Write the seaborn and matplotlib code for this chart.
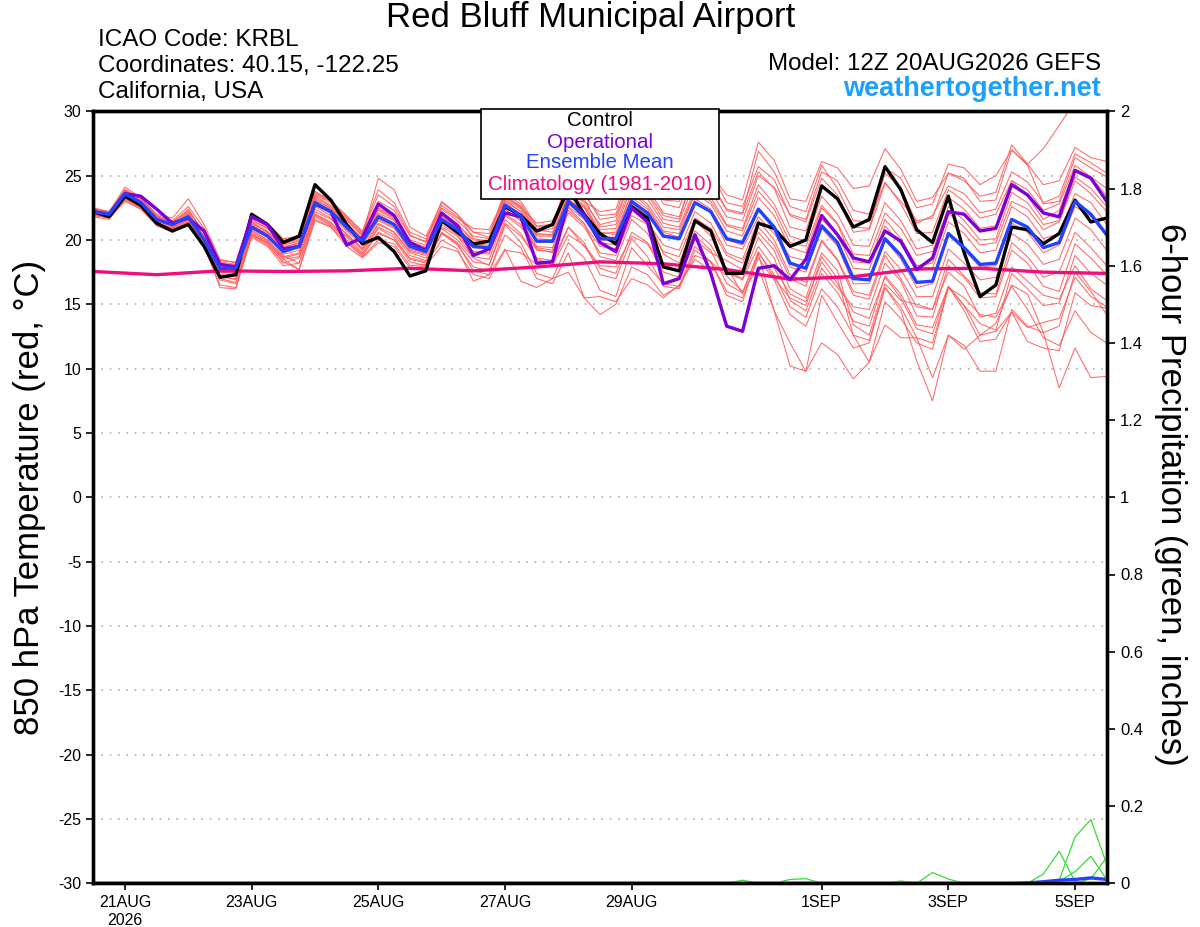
import pandas as pd
import matplotlib.pyplot as plt
from matplotlib.patches import Rectangle
import seaborn as sns


times = pd.date_range('2026-08-20 12:00', periods=65, freq='6h')

control = [22.2, 21.8, 23.4, 22.7, 21.3, 20.7, 21.2, 19.5, 17.1, 17.3, 22.0, 21.2, 19.8, 20.3, 24.3, 23.1,
           21.2, 19.7, 20.2, 19.1, 17.2, 17.6, 21.5, 20.6, 19.7, 19.9, 22.6, 21.9, 20.7, 21.2, 24.0, 22.0,
           20.5, 19.7, 22.6, 21.7, 17.9, 17.6, 21.5, 20.7, 17.4, 17.4, 21.3, 20.9, 19.5, 20.0, 24.2, 23.2,
           21.0, 21.6, 25.7, 23.9, 20.8, 19.8, 23.4, 19.0, 15.6, 16.5, 21.0, 20.8, 19.7, 20.5, 23.1, 21.4, 21.7]

operational = [22.2, 22.0, 23.6, 23.4, 22.4, 21.3, 21.7, 20.7, 18.1, 17.9, 21.8, 21.2, 19.3, 19.5, 22.8, 22.2,
               19.6, 20.2, 22.8, 21.9, 19.8, 19.2, 22.1, 21.1, 18.8, 19.3, 22.1, 21.8, 18.2, 18.3, 23.0, 22.0,
               19.8, 19.1, 22.5, 21.4, 16.6, 17.0, 20.4, 17.4, 13.3, 12.9, 17.8, 18.0, 16.9, 18.5, 21.9, 20.4,
               18.6, 18.3, 20.7, 19.9, 17.7, 18.6, 22.2, 22.0, 20.7, 20.9, 24.3, 23.5, 22.1, 21.8, 25.4, 24.8, 23.0]

ens_mean = [22.2, 22.0, 23.6, 22.9, 21.6, 21.2, 21.8, 20.0, 17.8, 17.8, 21.0, 20.3, 19.1, 19.5, 22.9, 22.2,
            21.0, 19.9, 21.8, 21.2, 19.5, 19.1, 21.6, 20.8, 19.5, 19.4, 22.7, 21.9, 19.9, 19.9, 23.0, 21.8,
            20.1, 20.1, 23.0, 22.1, 20.3, 20.1, 22.9, 22.2, 20.1, 19.8, 22.4, 21.0, 18.2, 17.8, 21.1, 19.8,
            17.0, 16.9, 20.1, 18.8, 16.7, 16.8, 20.5, 19.4, 18.1, 18.2, 21.6, 21.0, 19.4, 19.8, 23.0, 22.0, 20.4]

# daily climatology, one value per 12Z
climatology = [17.55, 17.3, 17.6, 17.55, 17.6, 17.8, 17.6, 17.9, 18.3, 18.15, 17.7, 16.95, 17.15, 17.75,
               17.8, 17.5, 17.4]

members = [
    [22.4, 22.1, 23.9, 23.1, 21.8, 21.4, 22.3, 20.6, 18.2, 18.0, 21.4, 20.7, 19.6, 19.9, 23.4, 22.7,
     21.5, 20.3, 22.5, 21.8, 20.0, 19.6, 22.4, 21.5, 20.3, 20.1, 23.5, 22.6, 20.8, 20.6, 24.1, 23.2,
     21.0, 21.2, 24.4, 23.5, 21.6, 21.4, 24.6, 23.8, 21.8, 21.5, 25.0, 24.1, 22.0, 21.6, 25.3, 24.6,
     22.3, 22.0, 25.6, 24.8, 22.5, 22.8, 25.9, 25.6, 24.3, 25.0, 27.0, 25.9, 27.1, 28.9, 30.8, 31.5, 32.0],
    [22.0, 21.9, 23.4, 22.8, 21.5, 21.0, 21.9, 20.3, 18.1, 17.9, 21.6, 20.9, 19.8, 20.1, 23.8, 23.0,
     21.6, 20.4, 24.8, 23.9, 21.0, 20.3, 22.9, 22.0, 20.6, 20.5, 23.6, 22.8, 21.0, 21.2, 24.2, 23.5,
     21.9, 22.0, 25.7, 25.0, 22.8, 22.5, 25.8, 25.1, 23.5, 23.1, 27.6, 26.2, 23.2, 23.0, 26.1, 25.6,
     24.0, 24.2, 27.1, 25.5, 23.0, 23.3, 25.2, 24.6, 23.4, 23.7, 27.4, 25.9, 24.3, 24.6, 27.2, 26.4, 26.1],
    [22.3, 21.8, 23.5, 22.6, 21.2, 20.8, 21.5, 19.8, 17.5, 17.4, 20.8, 20.0, 18.6, 18.9, 22.2, 21.6,
     20.5, 19.2, 21.0, 20.4, 18.8, 18.4, 20.9, 20.0, 18.6, 18.0, 21.6, 20.5, 18.5, 18.1, 21.0, 19.8,
     17.3, 17.0, 20.1, 18.7, 16.4, 16.2, 19.2, 18.3, 16.0, 15.5, 18.6, 16.9, 14.2, 13.3, 16.2, 14.8,
     12.6, 12.2, 16.3, 14.5, 10.6, 7.5, 12.6, 11.8, 9.8, 9.8, 14.6, 13.3, 12.8, 8.5, 11.6, 9.3, 9.4],
    [22.1, 21.9, 23.3, 22.7, 21.4, 20.9, 21.6, 19.9, 17.2, 16.9, 20.6, 19.9, 18.8, 18.2, 22.0, 21.3,
     20.2, 19.0, 20.9, 20.2, 18.5, 18.2, 20.5, 19.7, 17.6, 17.3, 21.2, 19.8, 17.4, 17.0, 19.8, 18.6,
     16.1, 15.6, 19.4, 18.0, 16.6, 16.4, 18.8, 18.3, 15.7, 15.2, 18.9, 14.5, 12.0, 9.8, 12.0, 11.1,
     9.2, 10.5, 13.4, 12.4, 12.4, 9.3, 12.6, 11.5, 12.6, 12.9, 14.4, 12.1, 11.6, 11.4, 15.9, 14.9, 14.7],
    [22.0, 21.7, 23.2, 22.5, 21.3, 20.7, 21.3, 19.6, 17.0, 16.7, 20.3, 19.6, 18.3, 17.7, 21.5, 21.0,
     19.8, 18.7, 20.0, 19.7, 18.0, 18.1, 20.0, 19.3, 16.8, 17.3, 19.3, 16.8, 16.3, 17.0, 17.5, 15.5,
     14.2, 15.0, 17.9, 17.3, 15.7, 16.4, 19.5, 18.3, 17.2, 16.0, 17.8, 14.5, 10.2, 9.8, 15.7, 13.6,
     11.6, 12.0, 16.3, 14.8, 12.4, 12.0, 16.3, 14.9, 12.6, 13.5, 16.5, 15.8, 12.8, 13.3, 17.5, 16.0, 14.2],
    [22.1, 21.9, 23.5, 22.8, 21.5, 21.0, 21.7, 19.9, 17.6, 17.5, 20.9, 20.2, 18.9, 19.2, 22.6, 21.9,
     20.7, 19.6, 21.5, 20.9, 19.2, 18.9, 21.2, 20.4, 19.0, 18.9, 22.0, 21.2, 19.2, 19.1, 22.1, 21.0,
     19.0, 18.8, 21.9, 21.2, 19.1, 18.7, 21.7, 20.9, 18.8, 18.2, 21.0, 19.6, 17.0, 16.4, 19.9, 18.4,
     15.7, 15.4, 18.8, 17.0, 14.8, 14.6, 18.5, 17.2, 15.9, 15.8, 19.8, 18.7, 17.1, 17.5, 20.6, 19.4, 18.0],
    [22.5, 22.2, 24.1, 23.3, 21.9, 21.5, 22.6, 20.9, 18.4, 18.3, 22.0, 21.3, 20.1, 20.3, 23.6, 23.0,
     21.9, 20.6, 23.5, 22.6, 20.4, 19.8, 22.7, 21.8, 20.6, 20.2, 23.9, 23.0, 21.1, 21.2, 24.8, 23.7,
     21.6, 21.8, 24.9, 24.0, 22.1, 21.8, 25.3, 24.4, 22.3, 22.0, 25.3, 24.0, 21.0, 20.7, 24.3, 23.2,
     20.6, 20.8, 24.4, 23.0, 21.5, 21.7, 25.2, 24.8, 23.0, 23.1, 27.0, 25.8, 22.8, 23.0, 26.4, 25.6, 24.9],
    [22.3, 22.1, 23.7, 23.0, 21.7, 21.2, 21.8, 20.1, 17.9, 17.7, 21.2, 20.4, 19.3, 19.6, 23.0, 22.3,
     21.0, 19.8, 22.0, 21.3, 19.6, 19.0, 21.8, 20.9, 19.4, 19.3, 22.4, 21.5, 19.3, 19.0, 22.5, 21.3,
     18.7, 18.4, 21.6, 20.5, 18.2, 17.5, 20.7, 19.6, 17.5, 16.9, 19.5, 17.8, 15.8, 15.2, 18.3, 16.6,
     14.4, 13.9, 17.1, 15.5, 13.1, 12.7, 16.4, 14.9, 13.5, 13.0, 17.4, 16.2, 14.9, 15.1, 18.8, 17.4, 16.5],
    [22.3, 22.2, 23.9, 23.3, 22.0, 21.7, 23.2, 21.2, 18.5, 18.2, 21.8, 21.0, 19.7, 20.0, 23.3, 22.6,
     21.3, 20.1, 22.4, 21.7, 19.9, 19.4, 22.1, 21.3, 19.8, 19.8, 23.0, 22.2, 20.3, 20.3, 23.4, 22.5,
     20.5, 20.6, 23.6, 22.6, 20.7, 20.5, 23.6, 22.8, 20.7, 20.3, 23.3, 21.9, 19.4, 19.0, 22.5, 21.2,
     18.3, 18.2, 21.6, 20.1, 18.0, 18.2, 22.1, 21.0, 19.6, 19.8, 23.0, 22.4, 20.8, 21.4, 24.6, 23.6, 22.2],
    [21.9, 21.8, 23.2, 22.6, 21.3, 20.8, 21.4, 19.7, 17.3, 17.2, 20.5, 19.8, 18.5, 18.7, 22.0, 21.4,
     20.0, 18.9, 20.6, 20.0, 18.6, 18.3, 20.5, 19.6, 17.9, 17.6, 20.4, 19.4, 17.0, 16.6, 19.0, 15.5,
     15.6, 15.2, 17.0, 16.5, 15.5, 16.5, 18.5, 17.6, 17.9, 15.8, 19.1, 17.0, 15.5, 14.9, 18.7, 17.0,
     12.6, 10.5, 15.2, 13.9, 12.0, 11.5, 16.3, 15.5, 14.2, 14.0, 16.4, 14.6, 12.4, 11.8, 14.5, 12.8, 12.0],
    [22.2, 22.0, 23.8, 23.2, 21.9, 21.3, 22.4, 20.5, 18.0, 18.1, 21.5, 20.9, 19.9, 20.4, 23.5, 22.9,
     21.7, 20.5, 23.0, 22.3, 20.3, 19.9, 23.0, 22.0, 20.1, 19.9, 23.3, 22.6, 20.6, 20.9, 23.8, 22.9,
     21.2, 21.5, 24.9, 23.7, 21.9, 21.6, 25.5, 24.5, 22.4, 22.1, 26.9, 25.3, 22.6, 22.2, 25.8, 24.0,
     21.5, 21.4, 24.5, 22.8, 20.5, 20.6, 23.9, 23.0, 21.7, 22.0, 24.6, 23.4, 21.6, 22.3, 25.5, 24.9, 24.0],
    [22.2, 22.0, 23.6, 22.8, 21.5, 21.1, 21.9, 20.0, 17.7, 17.6, 21.1, 20.5, 19.2, 19.4, 22.8, 22.1,
     20.9, 19.9, 21.6, 21.0, 19.3, 19.0, 21.5, 20.7, 19.4, 19.4, 22.9, 22.0, 20.1, 20.0, 23.2, 22.2,
     20.3, 20.2, 23.3, 22.4, 20.6, 20.2, 23.2, 22.4, 20.0, 19.6, 22.3, 20.8, 17.9, 17.5, 20.9, 19.5,
     16.6, 16.6, 20.0, 18.5, 16.3, 16.6, 20.4, 19.2, 17.9, 18.0, 21.3, 20.6, 19.0, 19.6, 22.6, 21.8, 20.3],
    [21.9, 21.7, 23.0, 22.4, 21.1, 20.6, 21.2, 19.5, 16.5, 16.3, 20.2, 19.5, 18.0, 18.2, 21.6, 21.0,
     19.5, 18.6, 19.8, 19.5, 17.8, 18.0, 19.5, 19.1, 17.3, 17.0, 19.2, 19.0, 18.1, 18.0, 20.4, 19.6,
     18.0, 17.9, 20.3, 19.7, 17.5, 17.1, 20.0, 19.0, 18.4, 17.7, 20.6, 19.2, 16.2, 15.5, 19.0, 17.6,
     13.4, 12.6, 16.6, 15.3, 15.0, 14.6, 17.5, 16.4, 14.0, 14.3, 17.9, 16.8, 15.7, 15.4, 18.0, 16.2, 15.3],
    [22.3, 22.0, 23.6, 23.0, 21.6, 21.2, 22.0, 20.3, 18.0, 17.9, 21.3, 20.6, 19.4, 19.8, 23.2, 22.4,
     21.2, 20.1, 22.1, 21.5, 19.7, 19.3, 21.9, 21.0, 19.7, 19.6, 23.1, 22.2, 20.4, 20.4, 23.6, 22.7,
     20.8, 20.9, 24.1, 23.2, 21.3, 21.0, 24.0, 23.3, 21.2, 20.9, 24.3, 22.8, 20.3, 19.9, 23.4, 22.0,
     19.6, 19.5, 22.9, 21.5, 19.3, 19.6, 23.3, 22.4, 20.9, 21.1, 24.6, 23.9, 22.3, 22.8, 25.8, 24.9, 23.4],
    [22.0, 21.8, 23.3, 22.5, 21.2, 20.7, 21.4, 19.6, 16.3, 16.2, 20.4, 19.8, 18.5, 17.7, 21.8, 21.1,
     20.3, 19.3, 21.3, 20.6, 19.0, 18.6, 21.0, 20.3, 18.7, 18.5, 21.9, 21.0, 19.4, 19.2, 22.3, 21.2,
     19.5, 19.3, 22.3, 21.4, 19.6, 19.2, 22.2, 21.3, 19.0, 18.5, 21.5, 20.0, 17.3, 16.7, 20.0, 18.5,
     16.0, 15.7, 19.1, 17.7, 15.6, 15.6, 19.3, 18.2, 16.9, 17.1, 20.5, 19.7, 18.1, 18.5, 21.7, 20.8, 19.2],
    [22.4, 22.2, 23.8, 23.1, 21.8, 21.4, 22.2, 20.6, 18.3, 18.1, 21.7, 21.1, 20.0, 20.2, 23.7, 23.1,
     21.8, 20.7, 23.9, 22.9, 20.6, 20.1, 22.5, 21.7, 20.9, 20.8, 23.4, 22.5, 21.3, 21.5, 23.9, 23.0,
     22.2, 22.4, 25.7, 25.2, 23.1, 23.0, 25.8, 25.3, 22.9, 22.6, 25.7, 24.7, 21.9, 21.4, 24.8, 23.5,
     21.0, 20.9, 25.2, 24.1, 21.3, 21.9, 24.2, 23.6, 22.1, 22.4, 25.3, 24.5, 22.9, 23.4, 26.7, 26.0, 25.2],
    [22.1, 21.8, 23.4, 22.7, 21.3, 20.9, 21.6, 19.8, 17.1, 17.0, 20.7, 20.0, 18.7, 19.0, 22.4, 21.7,
     20.4, 19.4, 21.2, 20.6, 19.1, 18.8, 21.4, 20.6, 19.1, 19.0, 22.4, 21.5, 19.5, 19.4, 22.6, 21.6,
     19.8, 19.6, 22.6, 21.7, 18.9, 18.2, 21.5, 20.3, 17.6, 17.0, 20.2, 18.6, 15.3, 14.5, 17.8, 16.3,
     14.8, 14.6, 18.2, 16.8, 14.1, 14.0, 18.0, 17.1, 15.5, 15.6, 19.2, 18.2, 16.4, 16.0, 19.7, 18.6, 17.3],
    [22.2, 22.1, 23.7, 23.0, 21.7, 21.3, 22.1, 20.2, 17.9, 17.9, 21.3, 20.6, 19.5, 19.7, 23.1, 22.5,
     21.2, 20.0, 22.3, 21.6, 19.8, 19.4, 22.0, 21.2, 20.0, 19.9, 23.2, 22.4, 20.5, 20.4, 23.5, 22.6,
     20.6, 20.4, 23.7, 22.8, 21.0, 20.8, 23.7, 23.0, 21.1, 20.7, 23.8, 22.4, 19.8, 19.5, 22.7, 21.3,
     18.9, 18.8, 22.1, 20.9, 18.8, 19.1, 22.6, 21.5, 20.0, 20.1, 23.7, 22.9, 21.2, 21.5, 24.9, 24.0, 22.6],
    [21.8, 21.6, 23.1, 22.4, 21.2, 20.6, 21.3, 19.6, 16.9, 16.6, 20.4, 19.7, 18.2, 18.6, 21.9, 21.2,
     19.9, 18.8, 20.5, 20.0, 18.3, 18.0, 20.6, 19.8, 18.3, 18.1, 21.3, 20.3, 18.6, 18.4, 21.0, 19.5,
     17.8, 17.4, 20.6, 19.8, 17.9, 17.6, 20.3, 19.2, 16.6, 15.9, 19.0, 17.3, 14.8, 14.0, 17.4, 15.9,
     13.7, 13.3, 17.2, 15.8, 13.4, 13.2, 16.4, 14.5, 12.1, 12.3, 14.4, 13.2, 13.6, 13.9, 17.1, 15.6, 14.8],
    [22.4, 22.1, 23.6, 22.9, 21.6, 21.2, 22.0, 20.2, 17.8, 17.8, 21.1, 20.4, 19.3, 19.6, 22.9, 22.2,
     20.8, 19.8, 21.9, 21.1, 19.5, 19.2, 21.7, 20.8, 19.5, 19.3, 22.6, 21.7, 19.9, 19.8, 22.8, 21.8,
     20.0, 19.9, 22.8, 21.9, 20.4, 20.2, 22.9, 22.1, 19.6, 19.3, 21.8, 20.5, 18.7, 18.4, 21.6, 20.4,
     17.8, 17.7, 21.1, 19.7, 17.6, 17.8, 21.4, 20.5, 19.0, 19.2, 22.6, 21.8, 20.1, 20.5, 23.6, 22.9, 21.2],
]

# 6-hour precipitation (inches), only members with rain
precip_members = [
    [0.0] * 59 + [0.0, 0.024, 0.083, 0.005, 0.0, 0.0],
    [0.0] * 60 + [0.0, 0.008, 0.12, 0.165, 0.05],
    [0.0] * 61 + [0.005, 0.03, 0.07, 0.01],
    [0.0] * 62 + [0.0, 0.012, 0.067],
    [0.0] * 41 + [0.008, 0.0, 0.0, 0.01, 0.012] + [0.0] * 19,
    [0.0] * 51 + [0.006, 0.0, 0.028, 0.011] + [0.0] * 10,
]
precip_mean = [0.0] * 59 + [0.001, 0.004, 0.008, 0.01, 0.014, 0.01]

tick_dates = ['2026-08-21', '2026-08-23', '2026-08-25', '2026-08-27', '2026-08-29',
              '2026-09-01', '2026-09-03', '2026-09-05']
tick_labels = ['21AUG\n2026', '23AUG', '25AUG', '27AUG', '29AUG', '1SEP', '3SEP', '5SEP']
temp_ticks = list(range(-30, 31, 5))
precip_ticks = [0, 0.2, 0.4, 0.6, 0.8, 1, 1.2, 1.4, 1.6, 1.8, 2]
precip_labels = ['0', '0.2', '0.4', '0.6', '0.8', '1', '1.2', '1.4', '1.6', '1.8', '2']

RED = '#ff5a5a'
PURPLE = '#7d00d8'
BLUE = '#2342ff'
PINK = '#ee0f7e'
GREEN = '#33dd33'

sns.set_style('white')
plt.rcParams['font.family'] = ['Liberation Sans', 'DejaVu Sans']
plt.rcParams['axes.unicode_minus'] = False
plt.rcParams['text.color'] = 'black'
plt.rcParams['xtick.color'] = 'black'
plt.rcParams['ytick.color'] = 'black'

member_df = pd.concat([pd.DataFrame({'time': times, 'temp': v, 'member': k})
                       for k, v in enumerate(members)])
clim_df = pd.DataFrame({'time': times[::4], 'temp': climatology})
precip_df = pd.concat([pd.DataFrame({'time': times, 'rain': v, 'member': k})
                       for k, v in enumerate(precip_members)])

fig = plt.figure(figsize=(12, 9.27), dpi=100)
ax = fig.add_axes([93.3 / 1200, 1 - 883.3 / 927, (1106.7 - 93.3) / 1200, (883.3 - 111.3) / 927])

sns.lineplot(data=member_df, x='time', y='temp', units='member', estimator=None,
             color=RED, lw=0.75, alpha=0.9, legend=False, ax=ax)
sns.lineplot(data=clim_df, x='time', y='temp', color=PINK, lw=2.4, ax=ax)
sns.lineplot(x=times, y=control, color='black', lw=2.4, ax=ax)
sns.lineplot(x=times, y=operational, color=PURPLE, lw=2.4, ax=ax)
sns.lineplot(x=times, y=ens_mean, color=BLUE, lw=2.4, ax=ax)

ax.set_xlim(times[0], times[-1])
ax.set_ylim(-30, 30)
ax.set_yticks(temp_ticks)
ax.set_xticks(pd.to_datetime(tick_dates))
ax.set_xticklabels(tick_labels)
ax.set_xlabel('')
ax.set_ylabel('')
ax.yaxis.grid(True, color='#b0b0b0', lw=1.2, linestyle=(0, (1, 4)))
ax.xaxis.grid(False)
ax.tick_params(axis='both', labelsize=11.5, length=5, width=1.2, direction='out',
               left=True, bottom=True, colors='black')
for s in ax.spines.values():
    s.set_linewidth(2.4)
    s.set_color('black')

ax2 = ax.twinx()
sns.lineplot(data=precip_df, x='time', y='rain', units='member', estimator=None,
             color=GREEN, lw=0.9, legend=False, ax=ax2)
sns.lineplot(x=times, y=precip_mean, color=BLUE, lw=2.4, ax=ax2)
ax2.set_ylim(0, 2)
ax2.set_yticks(precip_ticks)
ax2.set_yticklabels(precip_labels)
ax2.set_ylabel('')
ax2.set_xlim(times[0], times[-1])
ax2.tick_params(axis='y', labelsize=12, length=6, width=1.2, direction='out', right=True,
                colors='black')
for s in ax2.spines.values():
    s.set_linewidth(2.4)
    s.set_color('black')

fig.text(591 / 1200, 1 - 18 / 927, 'Red Bluff Municipal Airport', ha='center', va='center', fontsize=25)
fig.text(98 / 1200, 1 - 40 / 927, 'ICAO Code: KRBL', ha='left', va='center', fontsize=17.5)
fig.text(98 / 1200, 1 - 66 / 927, 'Coordinates: 40.15, -122.25', ha='left', va='center', fontsize=17.5)
fig.text(98 / 1200, 1 - 92 / 927, 'California, USA', ha='left', va='center', fontsize=17.5)
fig.text(1101 / 1200, 1 - 64 / 927, 'Model: 12Z 20AUG2026 GEFS', ha='right', va='center', fontsize=17.4)
fig.text(1101 / 1200, 1 - 89 / 927, 'weathertogether.net', ha='right', va='center', fontsize=19.5,
         fontweight='bold', color='#1ba0ff')
fig.text(30 / 1200, 1 - 497 / 927, '850 hPa Temperature (red, °C)', ha='center', va='center',
         rotation=90, fontsize=25)
fig.text(1170 / 1200, 1 - 494 / 927, '6-hour Precipitation (green, inches)', ha='center', va='center',
         rotation=270, fontsize=25)

box = Rectangle((481 / 1200, 1 - 199 / 927), 238 / 1200, 90 / 927, transform=fig.transFigure,
                facecolor='white', edgecolor='black', lw=1.2, zorder=5)
fig.add_artist(box)
legend_items = [('Control', 'black', 121), ('Operational', PURPLE, 142),
                ('Ensemble Mean', BLUE, 163), ('Climatology (1981-2010)', PINK, 185)]
for label, col, ypix in legend_items:
    fig.text(600 / 1200, 1 - ypix / 927, label, ha='center', va='center', fontsize=14.8,
             color=col, zorder=6)

fig.savefig('out.png', dpi=100)
